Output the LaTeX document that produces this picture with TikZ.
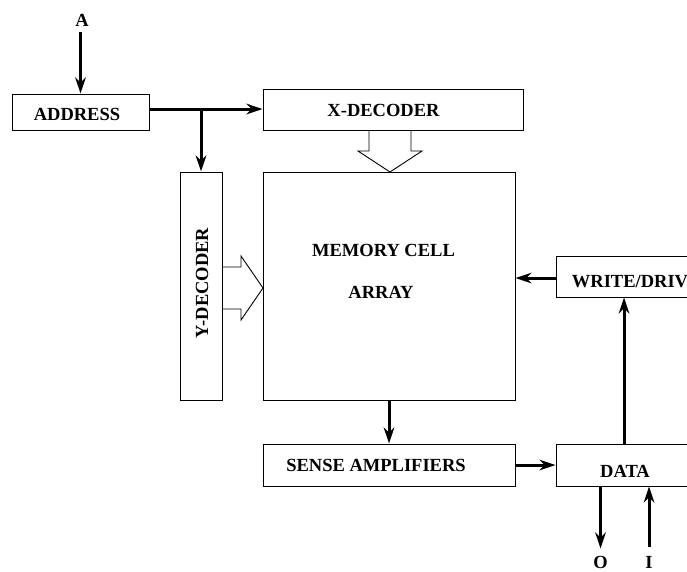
\documentclass[tikz,border=0pt]{standalone}
\usepackage{fontspec}
\setmainfont{Liberation Serif}
\usetikzlibrary{arrows.meta}

\begin{document}
\begin{tikzpicture}[x=1pt, y=-1pt, line join=miter,
  blk/.style={draw, line width=0.9pt, inner sep=0pt},
  txt/.style={anchor=base, inner sep=0pt, font=\fontsize{18.5}{22}\selectfont\bfseries},
  arr/.style={line width=3pt, -{Stealth[length=16pt,width=10.5pt,inset=5pt]}},
  hollow/.style={draw, line width=0.9pt}]

  \clip (0,0) rectangle (687,571);

  % ════ 方框 ════
  \node[blk, minimum width=137pt, minimum height=36pt] (address) at (80.5,112) {};
  \node[blk, minimum width=260pt, minimum height=41pt] (xdec) at (393,109.5) {};
  \node[blk, minimum width=42pt, minimum height=228pt] (ydec) at (201,286) {};
  \node[blk, minimum width=252pt, minimum height=228pt] (mem) at (389,286) {};
  \node[blk, minimum width=252pt, minimum height=42pt] (sense) at (389,465) {};
  \node[blk, minimum width=144pt, minimum height=42pt] (data) at (628,465) {};
  \node[blk, minimum width=144pt, minimum height=41pt] (write) at (628,276.5) {};

  % ════ 文字 ════
  \node[txt] (lblA) at (82,26) {A};
  \node[txt] (lblAddr) at (77,120) {ADDRESS};
  \node[txt] (lblX) at (383.5,116) {X-DECODER};
  \node[txt, rotate=90] (lblY) at (208,283) {Y-DECODER};
  \node[txt] (lblMem) at (383.5,256) {MEMORY CELL};
  \node[txt] (lblArr) at (381,298) {ARRAY};
  \node[txt] (lblW) at (630,287) {WRITE/DRIV};
  \node[txt] (lblS) at (376,471) {SENSE AMPLIFIERS};
  \node[txt] (lblD) at (625,477) {DATA};
  \node[txt] (lblO) at (600.5,568) {O};
  \node[txt] (lblI) at (649,568) {I};

  % ════ 粗箭头 ════
  \coordinate (br) at (201,109);
  \draw[arr] ([yshift=-6pt]lblA.south -| address.north) -- (address.north);
  \draw[line width=3pt] (address.east |- br) -- (br);
  \draw[arr] (br) -- (xdec.west |- br);
  \draw[arr] (br) -- (ydec.north);
  \draw[arr] (write.west |- 0,278) -- (mem.east |- 0,278);
  \draw[arr] ([xshift=-4pt]data.north) -- ([xshift=-4pt]write.south);
  \draw[arr] (mem.south) -- (sense.north);
  \draw[arr] (sense.east) -- (data.west);
  \draw[arr] (data.south -| lblO) -- ([yshift=7pt]lblO.north);
  \draw[arr] ([yshift=9pt]lblI.north) -- (data.south -| lblI);

  % ════ 空心箭头 ════
  % X-DECODER -> 存储阵列
  \draw[hollow] (369,130) -- (369,151) -- (358,151) -- (390,172)
    -- (422,151) -- (411,151) -- (411,130);
  % Y-DECODER -> 存储阵列
  \draw[hollow] (222,267) -- (241,267) -- (241,256) -- (263,288)
    -- (241,320) -- (241,309) -- (222,309);

  \path[use as bounding box] (0,0) rectangle (687,571);
\end{tikzpicture}
\end{document}
